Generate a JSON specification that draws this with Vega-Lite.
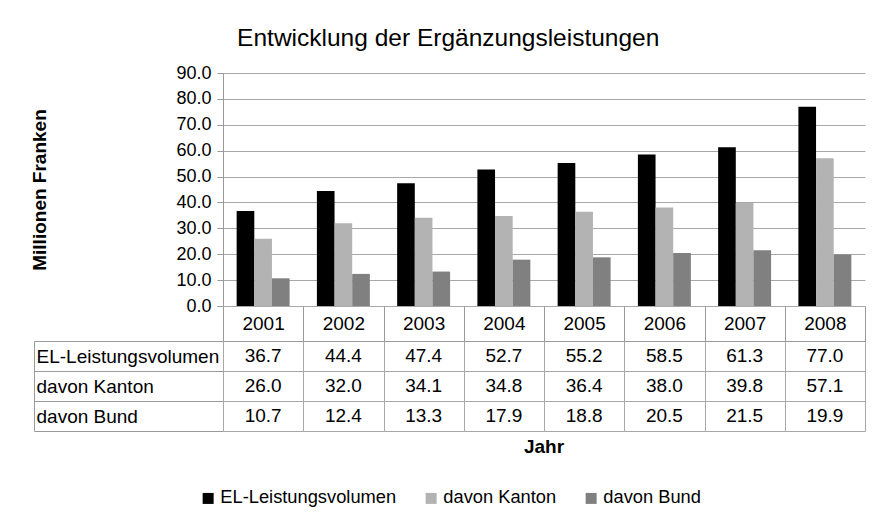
{
  "$schema": "https://vega.github.io/schema/vega-lite/v6.json",
  "background": "white",
  "padding": {"left": 30, "top": 25, "right": 20, "bottom": 10},
  "config": {
    "font": "Liberation Sans",
    "view": {"stroke": null},
    "axis": {"labelColor": "black", "titleColor": "black", "domainColor": "#9a9a9a", "tickColor": "#9a9a9a", "gridColor": "#a8a8a8", "labelFontSize": 18, "labelFont": "Liberation Sans"}
  },
  "title": {"text": "Entwicklung der Ergänzungsleistungen", "fontSize": 24.5, "fontWeight": "normal", "anchor": "middle", "frame": "bounds", "color": "black", "offset": 13},
  "data": {"values": [
    {"year": "2001", "series": "EL-Leistungsvolumen", "value": 36.7},
    {"year": "2002", "series": "EL-Leistungsvolumen", "value": 44.4},
    {"year": "2003", "series": "EL-Leistungsvolumen", "value": 47.4},
    {"year": "2004", "series": "EL-Leistungsvolumen", "value": 52.7},
    {"year": "2005", "series": "EL-Leistungsvolumen", "value": 55.2},
    {"year": "2006", "series": "EL-Leistungsvolumen", "value": 58.5},
    {"year": "2007", "series": "EL-Leistungsvolumen", "value": 61.3},
    {"year": "2008", "series": "EL-Leistungsvolumen", "value": 77.0},
    {"year": "2001", "series": "davon Kanton", "value": 26.0},
    {"year": "2002", "series": "davon Kanton", "value": 32.0},
    {"year": "2003", "series": "davon Kanton", "value": 34.1},
    {"year": "2004", "series": "davon Kanton", "value": 34.8},
    {"year": "2005", "series": "davon Kanton", "value": 36.4},
    {"year": "2006", "series": "davon Kanton", "value": 38.0},
    {"year": "2007", "series": "davon Kanton", "value": 39.8},
    {"year": "2008", "series": "davon Kanton", "value": 57.1},
    {"year": "2001", "series": "davon Bund", "value": 10.7},
    {"year": "2002", "series": "davon Bund", "value": 12.4},
    {"year": "2003", "series": "davon Bund", "value": 13.3},
    {"year": "2004", "series": "davon Bund", "value": 17.9},
    {"year": "2005", "series": "davon Bund", "value": 18.8},
    {"year": "2006", "series": "davon Bund", "value": 20.5},
    {"year": "2007", "series": "davon Bund", "value": 21.5},
    {"year": "2008", "series": "davon Bund", "value": 19.9}
  ]},
  "bounds": "flush",
  "spacing": 35,
  "vconcat": [
    {
      "width": 642,
      "height": 233,
      "mark": {"type": "bar"},
      "encoding": {
        "x": {"field": "year", "type": "ordinal", "scale": {"paddingInner": 0.34, "paddingOuter": 0.17}, "axis": null},
        "xOffset": {"field": "series", "type": "nominal", "sort": ["EL-Leistungsvolumen", "davon Kanton", "davon Bund"]},
        "y": {"field": "value", "type": "quantitative", "scale": {"domain": [0, 90], "nice": false},
          "axis": {"values": [0, 10, 20, 30, 40, 50, 60, 70, 80, 90], "format": ".1f", "title": "Millionen Franken", "titleFontSize": 19, "titleFontWeight": "bold", "titlePadding": 126, "tickSize": 6, "labelPadding": 6, "grid": true}},
        "color": {"field": "series", "type": "nominal",
          "scale": {"domain": ["EL-Leistungsvolumen", "davon Kanton", "davon Bund"], "range": ["#000000", "#b3b3b3", "#808080"]},
          "legend": {"orient": "none", "legendX": -24, "legendY": 416, "direction": "horizontal", "title": null, "symbolType": "square", "symbolSize": 121, "symbolStrokeWidth": 0, "labelFontSize": 18.3, "labelColor": "black", "labelLimit": 300, "columnPadding": 25, "labelOffset": 3}}
      }
    },
    {
      "width": 642,
      "height": 90,
      "title": {"text": "Jahr", "orient": "bottom", "frame": "group", "anchor": "middle", "fontSize": 19, "fontWeight": "bold", "offset": 6, "color": "black"},
      "mark": {"type": "text", "fontSize": 19, "color": "black"},
      "encoding": {
        "x": {"field": "year", "type": "ordinal", "scale": {"paddingInner": 0, "paddingOuter": 0},
          "axis": {"orient": "top", "title": null, "tickBand": "extent", "tickSize": 35, "labelPadding": -17.5, "labelBaseline": "middle", "labelAngle": 0, "labelFontSize": 19, "grid": true, "domain": true}},
        "y": {"field": "series", "type": "nominal", "sort": ["EL-Leistungsvolumen", "davon Kanton", "davon Bund"], "scale": {"paddingInner": 0, "paddingOuter": 0},
          "axis": {"orient": "left", "title": null, "offset": 189, "tickBand": "extent", "tickSize": -189, "labelAlign": "left", "labelPadding": 187, "labelBaseline": "middle", "labelFontSize": 19, "labelLimit": 260, "grid": true, "domain": true}},
        "text": {"field": "value", "type": "quantitative", "format": ".1f"}
      }
    }
  ]
}
